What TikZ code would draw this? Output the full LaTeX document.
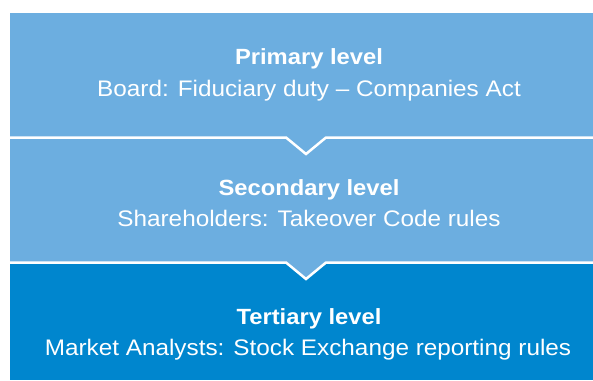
\documentclass[tikz,border=0pt]{standalone}
\usepackage{fontspec}
\setmainfont{Liberation Sans}[FakeStretch=1.08]
\definecolor{tierlight}{RGB}{108,174,224}
\definecolor{tierdark}{RGB}{0,134,206}
\tikzset{
  heading/.style={anchor=base, text=white, font=\fontsize{22}{26}\selectfont\bfseries, inner sep=0pt},
  detail/.style={anchor=base, text=white, font=\fontsize{22.5}{26}\selectfont, inner sep=0pt},
  seam/.style={draw=white, line width=2.5pt, line join=miter}
}
\begin{document}
\begin{tikzpicture}[x=1pt,y=-1pt]
\useasboundingbox (0,0) rectangle (593,380);
% tier bands, each upper band pointing down into the next
\fill[tierdark] (10,262) rectangle (593,380);
\fill[tierlight] (10,137) -- (593,137) -- (593,262.5) -- (326,262.5) -- (306,279) -- (286,262.5) -- (10,262.5) -- cycle;
\fill[tierlight] (10,13) -- (593,13) -- (593,137.5) -- (326,137.5) -- (306,154) -- (286,137.5) -- (10,137.5) -- cycle;
% white seams with their chevrons
\coordinate (s1l) at (10,137.5);  \coordinate (s1r) at (593,137.5);
\coordinate (s2l) at (10,262.5);  \coordinate (s2r) at (593,262.5);
\draw[seam] (s1l) -- (286,137.5) -- (306,154) -- (326,137.5) -- (s1r);
\draw[seam] (s2l) -- (286,262.5) -- (306,279) -- (326,262.5) -- (s2r);
% labels
\node[heading] (h1) at (309,64) {Primary level};
\node[detail]  (d1) at (309,96) {Board: Fiduciary duty – Companies Act};
\node[heading] (h2) at (309,195) {Secondary level};
\node[detail]  (d2) at (309,226) {Shareholders: Takeover Code rules};
\node[heading] (h3) at (309,324) {Tertiary level};
\node[detail]  (d3) at (308,355) {Market Analysts: Stock Exchange reporting rules};
\end{tikzpicture}
\end{document}
